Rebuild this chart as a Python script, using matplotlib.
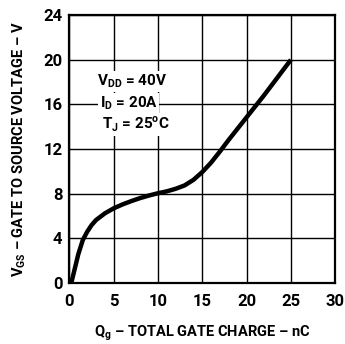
import matplotlib
matplotlib.use("Agg")
import matplotlib.pyplot as plt
import numpy as np

# gate charge curve
qg = [0.2, 0.6, 1.0, 1.5, 2.0, 2.5, 3.0, 4.0, 5.0, 6.0, 7.0, 8.0, 9.0, 10.0,
      11.0, 12.0, 13.0, 14.0, 15.0, 16.0, 17.0, 18.0, 20.0, 22.0, 25.0]
vgs = [0.0, 1.3, 2.6, 3.85, 4.6, 5.2, 5.65, 6.25, 6.7, 7.05, 7.35, 7.62, 7.85, 8.05,
       8.22, 8.45, 8.75, 9.25, 9.95, 10.8, 11.8, 12.85, 14.85, 16.85, 20.0]

xticks = [0, 5, 10, 15, 20, 25, 30]
yticks = [0, 4, 8, 12, 16, 20, 24]

plt.rcParams['font.family'] = ['Roboto', 'DejaVu Sans']
plt.rcParams['font.weight'] = 'bold'
plt.rcParams['mathtext.fontset'] = 'custom'
plt.rcParams['mathtext.rm'] = 'Roboto:bold'

fig = plt.figure(figsize=(3.45, 3.44), dpi=100)
ax = fig.add_axes([0.2014, 0.177, 0.770, 0.779])

ax.plot(qg, vgs, color='black', lw=3.2, solid_capstyle='butt')

ax.set_xlim(0, 30)
ax.set_ylim(0, 24)
ax.set_xticks(xticks)
ax.set_yticks(yticks)
ax.grid(True, color='black', lw=1.0)
ax.tick_params(length=0, labelsize=12)
ax.tick_params(axis='x', pad=8)
ax.tick_params(axis='y', pad=5)
for s in ax.spines.values():
    s.set_linewidth(1.6)

ax.set_xlabel(r'Q$_\mathregular{g}$ – TOTAL GATE CHARGE – nC', fontsize=10.5,
              fontweight='bold', labelpad=10)
ax.set_ylabel(r'V$_\mathregular{GS}$ – GATE TO SOURCE VOLTAGE – V', fontsize=10.5,
              fontweight='bold', labelpad=11)

bbox = dict(facecolor='white', edgecolor='none', pad=1)
ax.text(3.1, 17.7, r'V$_\mathregular{DD}$ = 40V', fontsize=11, fontweight='bold',
        va='baseline', bbox=bbox)
ax.text(3.4, 15.75, r'I$_\mathregular{D}$ = 20A', fontsize=11, fontweight='bold',
        va='baseline', bbox=bbox)
ax.text(3.7, 13.8, r'T$_\mathregular{J}$ = 25$^\mathregular{o}$C', fontsize=11,
        fontweight='bold', va='baseline', bbox=bbox)

fig.savefig('out.png', dpi=100)
